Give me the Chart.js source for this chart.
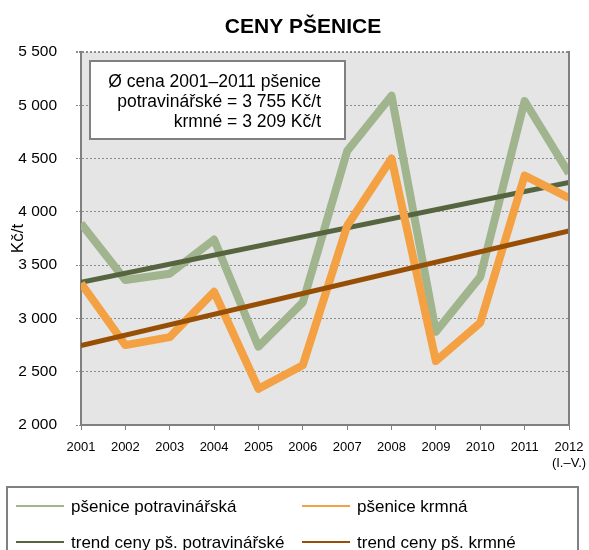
<!DOCTYPE html>
<html lang="cs">
<head>
<meta charset="utf-8">
<title>Ceny pšenice</title>
<script src="https://cdn.jsdelivr.net/npm/chart.js@4.4.1/dist/chart.umd.min.js"></script>
<style>
  html, body { margin: 0; padding: 0; background: #fff; }
  #wrap { position: relative; width: 589px; height: 550px; }
</style>
</head>
<body>
<div id="wrap"><canvas id="chart" width="589" height="550"></canvas></div>
<script>
// ── Data ──────────────────────────────────────────────────────
const years = ['2001', '2002', '2003', '2004', '2005', '2006',
               '2007', '2008', '2009', '2010', '2011', ['2012', '(I.–V.)']];

const potravinarska = [3890, 3360, 3420, 3740, 2735, 3150, 4570, 5090, 2875, 3390, 5040, 4360];
const krmna         = [3330, 2750, 2825, 3250, 2340, 2560, 3870, 4500, 2600, 2960, 4340, 4130];

// trend lines: only the end points, gaps spanned
const trendPotravinarska = [3340, null, null, null, null, null, null, null, null, null, null, 4275];
const trendKrmna         = [2745, null, null, null, null, null, null, null, null, null, null, 3820];

const seriesLabels = ['pšenice potravinářská', 'pšenice krmná',
                      'trend ceny pš. potravinářské', 'trend ceny pš. krmné'];

const yMin = 2000, yMax = 5500, yStep = 500;

const titleText = 'CENY PŠENICE';
const yTitle    = 'Kč/t';
const noteLines = ['Ø cena 2001–2011 pšenice', 'potravinářské = 3 755 Kč/t', 'krmné = 3 209 Kč/t'];

// ── Styles ────────────────────────────────────────────────────
const FONT   = '"Liberation Sans", Arial, sans-serif';
const GREEN  = '#a0b48e';
const ORANGE = '#f3a142';
const DKGRN  = '#56653f';
const BROWN  = '#974f05';
const AXIS   = '#808080';

const fmt = v => String(v).replace(/\B(?=(\d{3})+(?!\d))/g, ' ');

// ── Extras: plot background, frame, title, note box, legend ──
const extras = {
  id: 'extras',
  beforeDraw(chart) {
    const { ctx, chartArea: a } = chart;
    ctx.save();
    ctx.fillStyle = '#e5e5e5';
    ctx.fillRect(a.left, a.top, a.right - a.left, a.bottom - a.top);
    ctx.restore();
  },
  afterDatasetsDraw(chart) {
    const { ctx, chartArea: a } = chart;
    ctx.save();
    ctx.strokeStyle = AXIS;
    ctx.lineWidth = 2;
    ctx.beginPath();
    ctx.moveTo(a.right, a.top - 1);
    ctx.lineTo(a.right, a.bottom + 1);
    ctx.stroke();
    ctx.restore();
  },
  afterDraw(chart) {
    const { ctx } = chart;
    ctx.save();

    // title
    ctx.fillStyle = '#000';
    ctx.font = `bold 21px ${FONT}`;
    ctx.textAlign = 'center';
    ctx.textBaseline = 'alphabetic';
    ctx.fillText(titleText, 303, 33);

    // note box
    ctx.fillStyle = '#fff';
    ctx.fillRect(90, 61, 255, 78);
    ctx.strokeStyle = AXIS;
    ctx.lineWidth = 2;
    ctx.strokeRect(90, 61, 255, 78);
    ctx.fillStyle = '#000';
    ctx.font = `17.5px ${FONT}`;
    ctx.textAlign = 'right';
    noteLines.forEach((t, i) => ctx.fillText(t, 321, 87 + i * 20));

    // legend
    ctx.strokeStyle = AXIS;
    ctx.lineWidth = 2;
    ctx.strokeRect(7, 487, 571, 80);
    ctx.font = `17px ${FONT}`;
    ctx.textAlign = 'left';
    ctx.textBaseline = 'middle';
    const cols = [16, 302];
    const rows = [506, 542];
    chart.data.datasets.forEach((ds, i) => {
      const x = cols[i % 2], y = rows[Math.floor(i / 2)];
      ctx.strokeStyle = ds.borderColor;
      ctx.lineWidth = 2;
      ctx.beginPath();
      ctx.moveTo(x, y);
      ctx.lineTo(x + 48, y);
      ctx.stroke();
      ctx.fillStyle = '#000';
      ctx.fillText(ds.label, x + 55, y + 1);
    });
    ctx.restore();
  }
};

// ── Chart ─────────────────────────────────────────────────────
const line = (label, data, color, width, order) => ({
  label, data, order,
  borderColor: color,
  backgroundColor: color,
  borderWidth: width,
  borderJoinStyle: 'round',
  pointRadius: 0,
  pointHoverRadius: 0,
  tension: 0,
  spanGaps: true,
  clip: 0,
});

new Chart(document.getElementById('chart'), {
  type: 'line',
  data: {
    labels: years,
    datasets: [
      line(seriesLabels[0], potravinarska,      GREEN,  8, 3),
      line(seriesLabels[1], krmna,              ORANGE, 8, 1),
      line(seriesLabels[2], trendPotravinarska, DKGRN,  5, 2),
      line(seriesLabels[3], trendKrmna,         BROWN,  5, 0),
    ],
  },
  options: {
    responsive: false,
    animation: false,
    layout: { padding: { left: 0, right: 20, top: 52, bottom: 65 } },
    plugins: {
      legend: { display: false },
      title: { display: false },
      tooltip: { enabled: false },
    },
    scales: {
      x: {
        offset: false,
        afterFit: s => { s.height = 60; s.paddingLeft = 0; s.paddingRight = 0; },
        grid: { drawOnChartArea: false, drawTicks: true, tickLength: 5, color: AXIS, tickColor: AXIS },
        border: { color: AXIS, width: 2 },
        ticks: {
          autoSkip: false, maxRotation: 0, minRotation: 0, padding: 10,
          color: '#000', font: { family: FONT, size: 13 },
        },
      },
      y: {
        min: yMin, max: yMax,
        afterFit: s => { s.width = 81; s.paddingTop = 0; s.paddingBottom = 0; },
        grid: {
          color: '#8c8c8c', tickColor: '#8c8c8c', tickLength: 5,
          lineWidth: c => (c.tick && c.tick.value === yMax ? 2 : 1),
          tickBorderDash: [2, 1],
        },
        border: { color: AXIS, width: 2, dash: [2, 2] },
        ticks: {
          stepSize: yStep, padding: 19, color: '#000',
          font: { family: FONT, size: 15.5 },
          callback: v => fmt(v),
        },
        title: {
          display: true, text: yTitle, color: '#000',
          font: { family: FONT, size: 17 },
          padding: { top: 8, bottom: 0 },
        },
      },
    },
  },
  plugins: [extras],
});
</script>
</body>
</html>
